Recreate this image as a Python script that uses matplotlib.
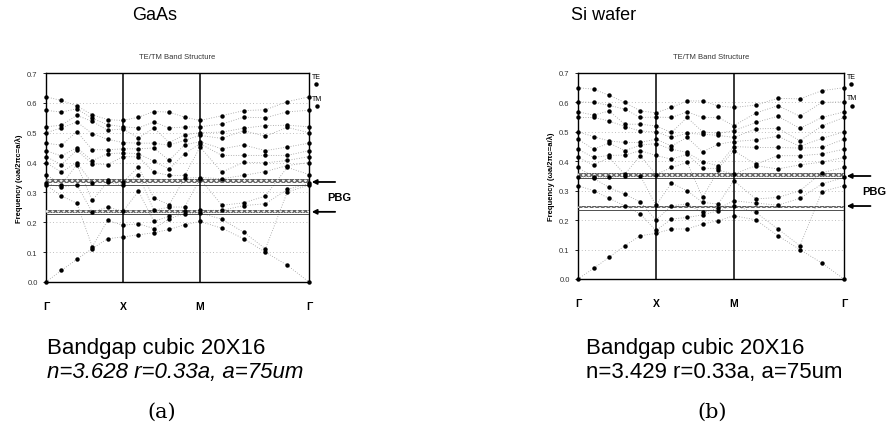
##### import reqd modules
import numpy as np
import matplotlib.pyplot as plt

plt.rcParams['font.family'] = ['Liberation Sans', 'DejaVu Sans']

##### data
sym_labels = ['Γ', 'X', 'M', 'Γ']
sym_pos = [0.0, 1.0, 2.0, 2.0 + np.sqrt(2)]
# k points along the path G-X-M-G, 5 steps per leg
kpath = np.concatenate([np.linspace(0, 1, 6), np.linspace(1, 2, 6)[1:],
                        2 + np.sqrt(2) * np.linspace(0, 1, 6)[1:]])

gaas_gamma = [0.0, 0.325, 0.33, 0.36, 0.40, 0.42, 0.44, 0.465, 0.50, 0.52, 0.575, 0.62]
gaas_freq = [
    gaas_gamma,
    [0.039, 0.288, 0.318, 0.326, 0.368, 0.393, 0.422, 0.458, 0.516, 0.525, 0.569, 0.608],
    [0.076, 0.264, 0.326, 0.393, 0.40, 0.441, 0.45, 0.504, 0.536, 0.558, 0.58, 0.59],
    [0.112, 0.118, 0.234, 0.273, 0.331, 0.396, 0.406, 0.443, 0.497, 0.538, 0.548, 0.56],
    [0.145, 0.206, 0.251, 0.335, 0.34, 0.393, 0.43, 0.443, 0.478, 0.508, 0.527, 0.544],
    [0.151, 0.19, 0.237, 0.324, 0.335, 0.42, 0.432, 0.446, 0.467, 0.513, 0.52, 0.541],
    [0.158, 0.195, 0.304, 0.359, 0.385, 0.419, 0.43, 0.446, 0.465, 0.482, 0.516, 0.552],
    [0.165, 0.179, 0.203, 0.24, 0.281, 0.368, 0.404, 0.449, 0.465, 0.516, 0.536, 0.571],
    [0.176, 0.212, 0.22, 0.251, 0.259, 0.357, 0.379, 0.407, 0.458, 0.467, 0.516, 0.569],
    [0.192, 0.229, 0.237, 0.251, 0.348, 0.357, 0.43, 0.46, 0.475, 0.493, 0.519, 0.552],
    [0.203, 0.232, 0.24, 0.346, 0.35, 0.452, 0.463, 0.47, 0.491, 0.50, 0.52, 0.541],
    [0.18, 0.21, 0.24, 0.257, 0.346, 0.368, 0.424, 0.446, 0.481, 0.502, 0.529, 0.557],
    [0.145, 0.167, 0.256, 0.265, 0.357, 0.401, 0.424, 0.459, 0.507, 0.515, 0.552, 0.574],
    [0.10, 0.111, 0.262, 0.288, 0.37, 0.399, 0.424, 0.44, 0.488, 0.524, 0.55, 0.577],
    [0.056, 0.301, 0.31, 0.384, 0.39, 0.407, 0.424, 0.452, 0.518, 0.525, 0.57, 0.604],
    gaas_gamma,
]

si_gamma = [0.0, 0.317, 0.345, 0.379, 0.413, 0.441, 0.475, 0.50, 0.549, 0.568, 0.602, 0.65]
si_freq = [
    si_gamma,
    [0.036, 0.30, 0.342, 0.347, 0.387, 0.413, 0.441, 0.484, 0.549, 0.557, 0.60, 0.645],
    [0.074, 0.274, 0.311, 0.345, 0.413, 0.42, 0.462, 0.469, 0.537, 0.571, 0.59, 0.624],
    [0.113, 0.249, 0.288, 0.351, 0.356, 0.421, 0.436, 0.464, 0.518, 0.526, 0.577, 0.60],
    [0.147, 0.221, 0.262, 0.351, 0.419, 0.436, 0.455, 0.464, 0.503, 0.526, 0.549, 0.571],
    [0.155, 0.165, 0.20, 0.25, 0.355, 0.42, 0.46, 0.475, 0.50, 0.52, 0.55, 0.565],
    [0.17, 0.204, 0.249, 0.326, 0.379, 0.407, 0.441, 0.452, 0.481, 0.498, 0.549, 0.583],
    [0.17, 0.209, 0.255, 0.30, 0.396, 0.424, 0.43, 0.481, 0.495, 0.549, 0.568, 0.605],
    [0.187, 0.218, 0.226, 0.26, 0.277, 0.376, 0.398, 0.432, 0.492, 0.50, 0.549, 0.605],
    [0.198, 0.232, 0.24, 0.255, 0.37, 0.376, 0.385, 0.458, 0.488, 0.495, 0.549, 0.588],
    [0.215, 0.249, 0.266, 0.334, 0.357, 0.436, 0.45, 0.467, 0.481, 0.504, 0.521, 0.583],
    [0.201, 0.226, 0.258, 0.272, 0.385, 0.39, 0.447, 0.473, 0.51, 0.532, 0.564, 0.591],
    [0.147, 0.17, 0.251, 0.277, 0.374, 0.419, 0.447, 0.485, 0.512, 0.553, 0.589, 0.614],
    [0.10, 0.113, 0.274, 0.30, 0.388, 0.419, 0.445, 0.451, 0.47, 0.512, 0.553, 0.612],
    [0.054, 0.297, 0.323, 0.361, 0.397, 0.425, 0.447, 0.478, 0.52, 0.549, 0.60, 0.64],
    si_gamma,
]

# gap edges: (hatched band low, hatched band high, solid line) for upper and lower edge
gaas_gap = [(0.333, 0.344, 0.324), (0.232, 0.240, 0.227)]
si_gap = [(0.348, 0.360, 0.342), (0.240, 0.249, 0.235)]
gaas_arrows = [0.335, 0.235]
si_arrows = [0.35, 0.248]

materials = ['GaAs', 'Si wafer']
captions = ['n=3.628 r=0.33a, a=75um', 'n=3.429 r=0.33a, a=75um']
panel_tags = ['(a)', '(b)']

##### figure layout (pixels of a 893x431 canvas)
W, H = 893, 431
fig = plt.figure(figsize=(W / 100, H / 100), dpi=100)
panels = [
    dict(box=(46, 74, 309, 283), freq=gaas_freq, gap=gaas_gap, arrows=gaas_arrows,
         head_x=155, cap_x=47, tag_x=162, italic='italic'),
    dict(box=(578, 74, 844, 280), freq=si_freq, gap=si_gap, arrows=si_arrows,
         head_x=604, cap_x=586, tag_x=712, italic='normal'),
]

for i, p in enumerate(panels):
    x0, y0, x1, y1 = p['box']
    ax = fig.add_axes([x0 / W, 1 - y1 / H, (x1 - x0) / W, (y1 - y0) / H])
    ax.set_xlim(sym_pos[0], sym_pos[-1])
    ax.set_ylim(0, 0.7)

    # faint dotted grid
    for g in np.arange(0.1, 0.65, 0.1):
        ax.axhline(g, color='#aaaaaa', lw=0.6, ls=(0, (1, 3)), zorder=1)

    # bands joined by index with light dotted lines, dots on top
    fr = np.array(p['freq'])
    for b in range(fr.shape[1]):
        ax.plot(kpath, fr[:, b], color='#999999', lw=0.6, ls=(0, (1, 2)), zorder=2)
    for kk, col in zip(kpath, p['freq']):
        ax.plot([kk] * len(col), col, 'o', color='black', ms=3.2, mew=0,
                clip_on=False, zorder=4)

    # photonic band gap edges
    for lo, hi, solid in p['gap']:
        ax.axhspan(lo, hi, facecolor='#f2f2f2', edgecolor='#666666', hatch='xxxxxx',
                   lw=0, zorder=3)
        ax.axhline(hi, color='#555555', lw=0.6, ls=(0, (1, 1)), zorder=3)
        ax.axhline(solid, color='#333333', lw=0.6, zorder=3)

    # symmetry point lines
    for s in sym_pos[1:-1]:
        ax.axvline(s, color='black', lw=1.1, zorder=5)
    for sp in ax.spines.values():
        sp.set_linewidth(1.0)

    ax.set_xticks(sym_pos)
    ax.set_xticklabels(sym_labels, fontsize=7.5, fontweight='bold')
    ax.tick_params(axis='x', length=0, pad=14)
    ax.set_yticks(np.arange(0, 0.71, 0.1))
    ax.set_yticklabels(['%.1f' % v for v in np.arange(0, 0.71, 0.1)], fontsize=5.5,
                       color='#333333')
    ax.tick_params(axis='y', length=2, width=0.6, pad=4)
    ax.set_ylabel('Frequency (ωa/2πc=a/λ)', fontsize=5.5, fontweight='bold', labelpad=3)
    ax.set_title('TE/TM Band Structure', fontsize=5.5, color='#333333', pad=11)

    # TE / TM key to the right
    ax.text(1.01, 0.985, 'TE', transform=ax.transAxes, fontsize=5, va='center')
    ax.plot([1.025], [0.945], 'o', color='black', ms=2.2, transform=ax.transAxes,
            clip_on=False)
    ax.text(1.01, 0.88, 'TM', transform=ax.transAxes, fontsize=5, va='center')
    ax.plot([1.03], [0.84], 'o', color='black', ms=2.2, transform=ax.transAxes,
            clip_on=False)

    # PBG arrows
    for a in p['arrows']:
        ax.annotate('', xy=(1.0, a), xycoords=('axes fraction', 'data'),
                    xytext=(1.11, a), textcoords=('axes fraction', 'data'),
                    arrowprops=dict(arrowstyle='-|>', color='black', lw=1.3,
                                    mutation_scale=7))
    ax.text(1.07, np.mean(p['arrows']), 'PBG', transform=ax.get_yaxis_transform(),
            fontsize=8, fontweight='bold', va='center')

    ##### texts around the panel
    fig.text(p['head_x'] / W, 1 - 15 / H, materials[i], fontsize=13, ha='center',
             va='center')
    fig.text(p['cap_x'] / W, 1 - 349 / H, 'Bandgap cubic 20X16', fontsize=16,
             va='center')
    fig.text(p['cap_x'] / W, 1 - 373 / H, captions[i], fontsize=16, va='center',
             style=p['italic'])
    fig.text(p['tag_x'] / W, 1 - 412 / H, panel_tags[i], fontsize=15, ha='center',
             va='center', family='DejaVu Serif')

plt.savefig('out.png', dpi=100)
